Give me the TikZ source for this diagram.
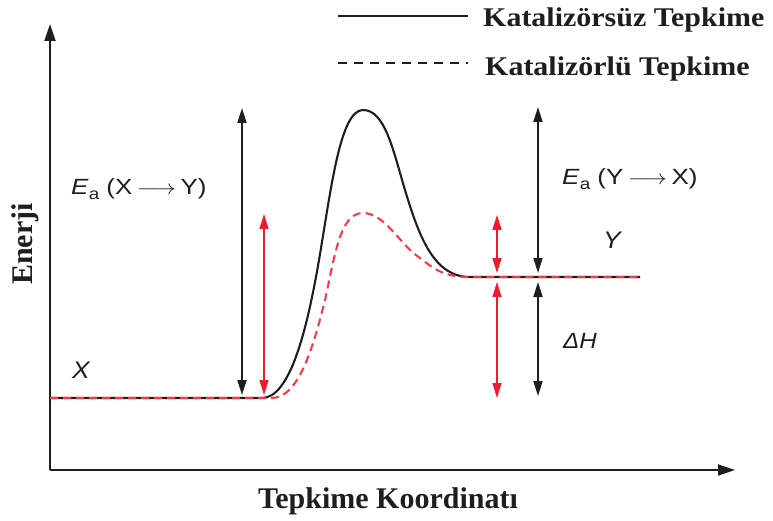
\documentclass[tikz,border=0pt]{standalone}
\usepackage{fontspec}
\usepackage{graphicx}
\setmainfont{Liberation Serif}
\setsansfont{Liberation Sans}
\usetikzlibrary{arrows.meta}
\definecolor{myred}{RGB}{237,28,46}
\definecolor{curvered}{RGB}{240,60,75}
\definecolor{ink}{RGB}{30,30,30}
\newcommand{\wide}[2]{\scalebox{#1}[1]{#2}}
\begin{document}
\begin{tikzpicture}[x=1pt,y=-1pt,
  titletext/.style={font=\fontsize{30}{36}\selectfont\bfseries, inner sep=0pt, text=ink},
  legtext/.style={font=\fontsize{27}{32}\selectfont\bfseries, inner sep=0pt, anchor=base west, text=ink},
  eatext/.style={font=\sffamily\fontsize{22}{26}\selectfont, inner sep=0pt, anchor=base west, text=ink},
  vartext/.style={font=\sffamily\itshape\fontsize{24}{28}\selectfont, inner sep=0pt, anchor=base west, text=ink},
  axisline/.style={line width=1.8pt, draw=ink, -{Triangle[length=17pt,width=11pt]}},
  dimblack/.style={line width=1.8pt, draw=ink, {Triangle[length=15pt,width=9pt]}-{Triangle[length=15pt,width=9pt]}},
  dimred/.style={line width=1.5pt, draw=myred, {Triangle[length=15pt,width=9pt]}-{Triangle[length=15pt,width=9pt]}},
  solidcurve/.style={line width=2.1pt, draw=ink},
  dashcurve/.style={line width=2.1pt, draw=curvered, dash pattern=on 8pt off 5pt},
  legsolid/.style={line width=1.6pt, draw=ink},
  legdash/.style={line width=1.6pt, draw=ink, dash pattern=on 9pt off 7pt}
]
\useasboundingbox (0,0) rectangle (773,521);

% axes
\coordinate (O) at (50,470);
\coordinate (ytop) at (50,24);
\coordinate (xend) at (735,470);
\draw[axisline] (O) -- (ytop);
\draw[axisline] (O) -- (xend);

% uncatalysed curve
\draw[solidcurve] (50,398) -- (262,398)
  .. controls (290,398) and (307,330) .. (319,260)
  .. controls (331,190) and (340,110) .. (363,110)
  .. controls (385,110) and (393,150) .. (405,190)
  .. controls (420,240) and (435,277) .. (470,277)
  -- (640,277);

% catalysed curve
\draw[dashcurve] (50,398) -- (272,398)
  .. controls (300,398) and (315,340) .. (325,300)
  .. controls (335,255) and (340,213) .. (363,213)
  .. controls (385,213) and (400,245) .. (420,258)
  .. controls (435,270) and (445,277) .. (470,277)
  -- (640,277);

% dimension arrows
\coordinate (la1) at (242,108); \coordinate (la2) at (242,395);
\coordinate (lr1) at (264,214); \coordinate (lr2) at (264,395);
\coordinate (rr1) at (497,215); \coordinate (rr2) at (497,273);
\coordinate (rr3) at (497,282); \coordinate (rr4) at (497,398);
\coordinate (rb1) at (538,107); \coordinate (rb2) at (538,273);
\coordinate (rb3) at (538,282); \coordinate (rb4) at (538,396);
\draw[dimblack] (la1) -- (la2);
\draw[dimred] (lr1) -- (lr2);
\draw[dimred] (rr1) -- (rr2);
\draw[dimred] (rr3) -- (rr4);
\draw[dimblack] (rb1) -- (rb2);
\draw[dimblack] (rb3) -- (rb4);

% labels
\node[eatext] (eaxy) at (71,195) {\wide{1.18}{\textit{E}\raisebox{-0.35ex}{\fontsize{16}{18}\selectfont a}\ (X\,$\longrightarrow$\,Y)}};
\node[eatext] (eayx) at (562,185) {\wide{1.18}{\textit{E}\raisebox{-0.35ex}{\fontsize{16}{18}\selectfont a}\ (Y\,$\longrightarrow$\,X)}};
\node[vartext] (xlab) at (72,378) {\wide{1.1}{X}};
\node[vartext] (ylab) at (603,248) {\wide{1.1}{Y}};
\node[vartext, font=\sffamily\itshape\fontsize{22}{26}\selectfont] (dh) at (563,348) {\wide{1.1}{ΔH}};

% legend
\coordinate (ls1) at (338,16); \coordinate (ls2) at (468,16);
\coordinate (ld1) at (338,63); \coordinate (ld2) at (468,63);
\draw[legsolid] (ls1) -- (ls2);
\draw[legdash] (ld1) -- (ld2);
\node[legtext] (leg1) at (483,27) {\wide{1.11}{Katalizörsüz Tepkime}};
\node[legtext] (leg2) at (485,76) {\wide{1.11}{Katalizörlü Tepkime}};

% axis titles
\node[titletext, anchor=base] (xt) at (388,508) {Tepkime Koordinatı};
\node[titletext, anchor=base, rotate=90] (yt) at (32,244) {Enerji};
\end{tikzpicture}
\end{document}
